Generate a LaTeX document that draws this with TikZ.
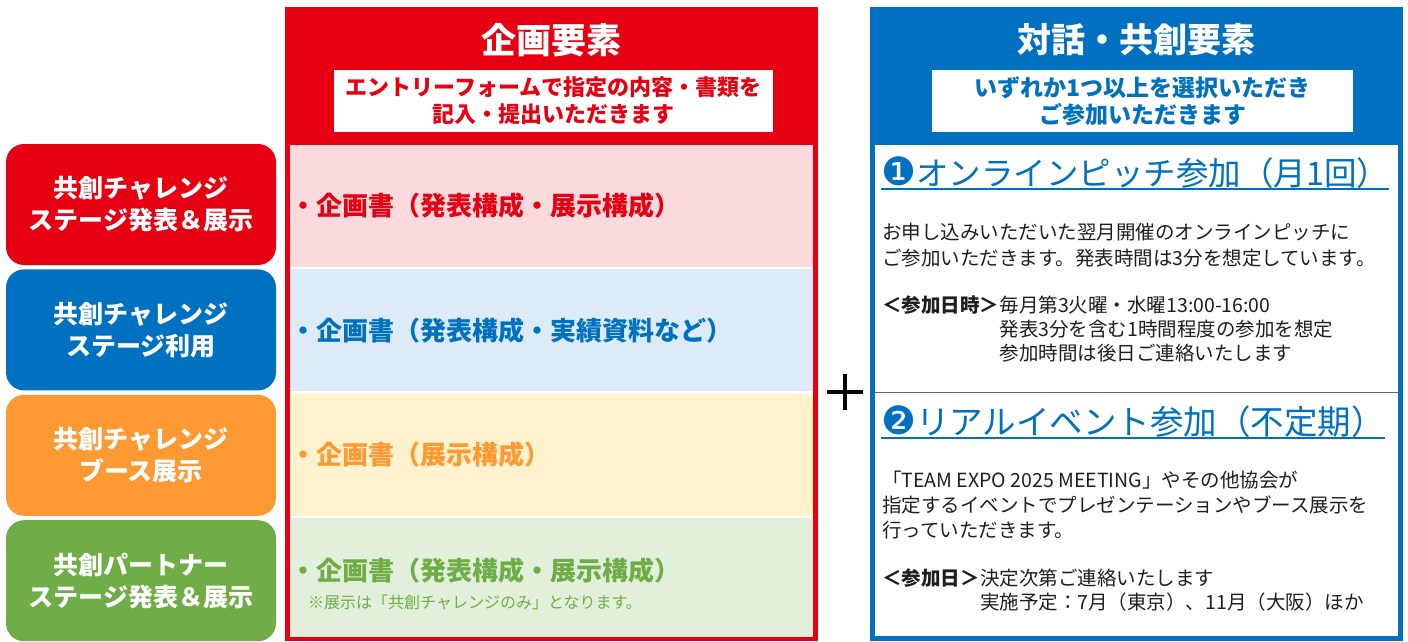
\documentclass[tikz,border=0pt]{standalone}
\usepackage{fontspec}
\setmainfont{Noto Sans CJK JP}
\newfontfamily\symfont{DejaVu Sans}
\usetikzlibrary{positioning}
\definecolor{kred}{HTML}{E60012}
\definecolor{kblue}{HTML}{0070C0}
\definecolor{korange}{HTML}{FF9933}
\definecolor{kgreen}{HTML}{70AD47}
\definecolor{pred}{HTML}{FBDADE}
\definecolor{pblue}{HTML}{DDEBF7}
\definecolor{porange}{HTML}{FFF2CC}
\definecolor{pgreen}{HTML}{E2EFDA}
\definecolor{ink}{HTML}{1E1E1E}
\newcommand\bignum[1]{{\symfont\fontsize{39}{36}\selectfont #1}}

\begin{document}
\begin{tikzpicture}[
x = 1pt, y = -1pt,
node distance = 4pt and 4pt,
  catbox/.style = {rounded corners=18pt, minimum width=270pt, minimum height=121pt,
                   inner sep=0pt, align=center, text=white,
                   font=\bfseries\fontsize{25}{32}\selectfont},
  rowbox/.style = {minimum width=523pt, inner sep=0pt},
  rowtxt/.style = {inner sep=0pt, font=\bfseries\fontsize{26}{30}\selectfont},
 headtxt/.style = {inner sep=0pt, text=white, font=\bfseries\fontsize{35}{40}\selectfont},
 notebox/.style = {fill=white, minimum height=62pt, inner sep=0pt, align=center,
                   font=\bfseries\fontsize{22}{27}\selectfont},
 subhead/.style = {inner sep=0pt, anchor=west, text=kblue},
    body/.style = {inner sep=0pt, align=left, text=ink, font=\fontsize{19.5}{25}\selectfont}
                    ]
\useasboundingbox (0,0) rectangle (1408,641);
\fill[white] (0,0) rectangle (1408,641);

% left column
    \begin{scope}[nodes=catbox]
\node (c1) [fill=kred] at (141,204.5) {共創チャレンジ\\ステージ発表＆展示};
\node (c2) [fill=kblue, below=of c1]   {共創チャレンジ\\ステージ利用};
\node (c3) [fill=korange, below=of c2] {共創チャレンジ\\ブース展示};
\node (c4) [fill=kgreen, below=of c3]  {共創パートナー\\ステージ発表＆展示};
    \end{scope}

% planning panel
\fill[kred] (285,7) rectangle (818,641);
\fill[white] (290,145) rectangle (813,636);
\node (ptitle) [headtxt] at (551.5,40) {企画要素};
\node (pnote) [notebox, text=kred, minimum width=439pt] at (553.5,101)
      {エントリーフォームで指定の内容・書類を\\記入・提出いただきます};

\node (r1) [rowbox, fill=pred, minimum height=122pt] at (551.5,206) {};
\node (r2) [rowbox, fill=pblue, minimum height=122pt, below=2pt of r1] {};
\node (r3) [rowbox, fill=porange, minimum height=122pt, below=2pt of r2] {};
\node (r4) [rowbox, fill=pgreen, minimum height=119pt, below=2pt of r3] {};

\node (t1) [rowtxt, text=kred, right=0pt of r1.west] {・企画書（発表構成・展示構成）};
\node (t2) [rowtxt, text=kblue, right=0pt of r2.west] {・企画書（発表構成・実績資料など）};
\node (t3) [rowtxt, text=korange, right=0pt of r3.west] {・企画書（展示構成）};
\node (t4) [rowtxt, text=kgreen, anchor=west] at (290,571) {・企画書（発表構成・展示構成）};
\node (t4n) [inner sep=0pt, anchor=west, text=kgreen, font=\fontsize{16}{18}\selectfont]
      at (308,602) {※展示は「共創チャレンジのみ」となります。};

% plus
\draw[line width=3.5pt] (827,392) -- (863,392) (845,374) -- (845,410);

% dialogue panel
\fill[kblue] (870,7) rectangle (1403,641);
\fill[white] (875,145) rectangle (1398,636);
\node (dtitle) [headtxt, font=\bfseries\fontsize{34}{40}\selectfont] at (1136.5,40) {対話・共創要素};
\node (dnote) [notebox, text=kblue, minimum width=421pt, font=\bfseries\fontsize{23}{27}\selectfont]
      at (1142.5,101) {いずれか1つ以上を選択いただき\\ご参加いただきます};
\draw[gray!80!black, line width=1pt] (875,392) -- (1398,392);

% 1: online pitch
\node (s1) [subhead, font=\fontsize{32.5}{36}\selectfont] at (881,173)
      {\bignum{❶}オンラインピッチ参加（月1回）};
\draw[kblue, line width=1.6pt] (s1.south west) -- (s1.south east);
\node (s1p) [body, anchor=west, font=\fontsize{19.5}{26}\selectfont] at (882,245)
      {お申し込みいただいた翌月開催のオンラインピッチに\\ご参加いただきます。発表時間は3分を想定しています。};
\node (s1l) [body, anchor=west, font=\bfseries\fontsize{19.5}{24}\selectfont] at (882,305) {＜参加日時＞};
\node (s1d) [body, anchor=north west, font=\fontsize{19.5}{24}\selectfont] at (s1l.north east)
      {毎月第3火曜・水曜13:00-16:00\\発表3分を含む1時間程度の参加を想定\\参加時間は後日ご連絡いたします};

% 2: real events
\node (s2) [subhead, font=\fontsize{33.5}{36}\selectfont] at (881,422)
      {\bignum{❷}リアルイベント参加（不定期）};
\draw[kblue, line width=1.6pt] (s2.south west) -- (s2.south east);
\node (s2p) [body, anchor=west] at (882,505)
      {「TEAM EXPO 2025 MEETING」やその他協会が\\指定するイベントでプレゼンテーションやブース展示を\\行っていただきます。};
\node (s2l) [body, anchor=west, font=\bfseries\fontsize{19.5}{24}\selectfont] at (882,578) {＜参加日＞};
\node (s2d) [body, anchor=north west, font=\fontsize{19.5}{24}\selectfont] at (s2l.north east)
      {決定次第ご連絡いたします\\実施予定：7月（東京）、11月（大阪）ほか};
\end{tikzpicture}
\end{document}
